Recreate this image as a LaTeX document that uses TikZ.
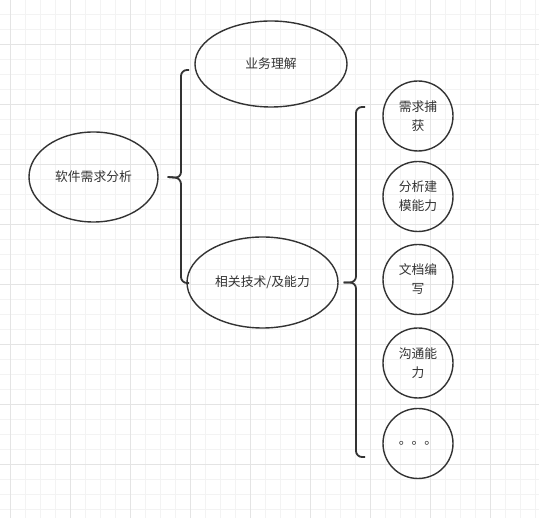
\documentclass[tikz,border=0pt]{standalone}
\usepackage{fontspec}
\newfontfamily\cjk{Noto Sans CJK SC}
\usepackage{tikz}
\usepackage{xcolor}
\usetikzlibrary{shapes.geometric, positioning}
\definecolor{inkgray}{HTML}{333333}
\definecolor{minorgrid}{HTML}{F3F3F3}
\definecolor{majorgrid}{HTML}{E4E4E4}

\begin{document}
\begin{tikzpicture}[x=1pt, y=-1pt,
    topic/.style={ellipse, draw=inkgray, line width=1.4pt, inner sep=0pt,
      text=inkgray, font=\cjk\fontsize{12.8}{19}\selectfont, align=center},
    skill/.style={ellipse, draw=inkgray, line width=1.4pt, inner sep=0pt,
      minimum width=70, minimum height=70,
      text=inkgray, font=\cjk\fontsize{12.8}{19}\selectfont, align=center},
    bracket/.style={draw=inkgray, line width=1.8pt, rounded corners=6pt}]
  \useasboundingbox (0,0) rectangle (539,518);
  \fill[white] (0,0) rectangle (539,518);
  % Background grid
  \foreach \x in {10,25,...,535} \draw[minorgrid, line width=0.8pt] (\x,0) -- (\x,518);
  \foreach \y in {14,29,...,514} \draw[minorgrid, line width=0.8pt] (0,\y) -- (539,\y);
  \foreach \x in {10,70,...,490} \draw[majorgrid, line width=0.8pt] (\x,0) -- (\x,518);
  \foreach \y in {44,104,...,464} \draw[majorgrid, line width=0.8pt] (0,\y) -- (539,\y);
  % Main topic
  \node[topic, minimum width=129, minimum height=90] (root) at (93.5,177) {软件需求分析};
  % Second level
  \node[topic, minimum width=152, minimum height=86] (biz) at (271,64) {业务理解};
  \node[topic, minimum width=151, minimum height=91] (tech) at (262.5,282.5) {相关技术/及能力};
  % Third level
  \node[skill] (capture) at (418,116) {需求捕\\获};
  \node[skill] (model) at (418,196.5) {分析建\\模能力};
  \node[skill] (docs) at (418,279.5) {文档编\\写};
  \node[skill] (talk) at (418,363) {沟通能\\力};
  \node[skill] (more) at (418,443.5) {。。。};
  % First bracket
  \coordinate (tipA) at ([xshift=9]root.east);
  \coordinate (topA) at (189,70);
  \coordinate (botA) at (189,283);
  \draw[bracket] (topA) -- (181,70) -- (181,178) -- (tipA);
  \draw[bracket] (tipA) -- (181,178) -- (181,283) -- (botA);
  % Second bracket
  \coordinate (tipB) at ([xshift=5]tech.east);
  \coordinate (topB) at (365,107);
  \coordinate (botB) at (365,457);
  \draw[bracket] (topB) -- (356,107) -- (356,282.5) -- (tipB);
  \draw[bracket] (tipB) -- (356,282.5) -- (356,457) -- (botB);
\end{tikzpicture}
\end{document}
